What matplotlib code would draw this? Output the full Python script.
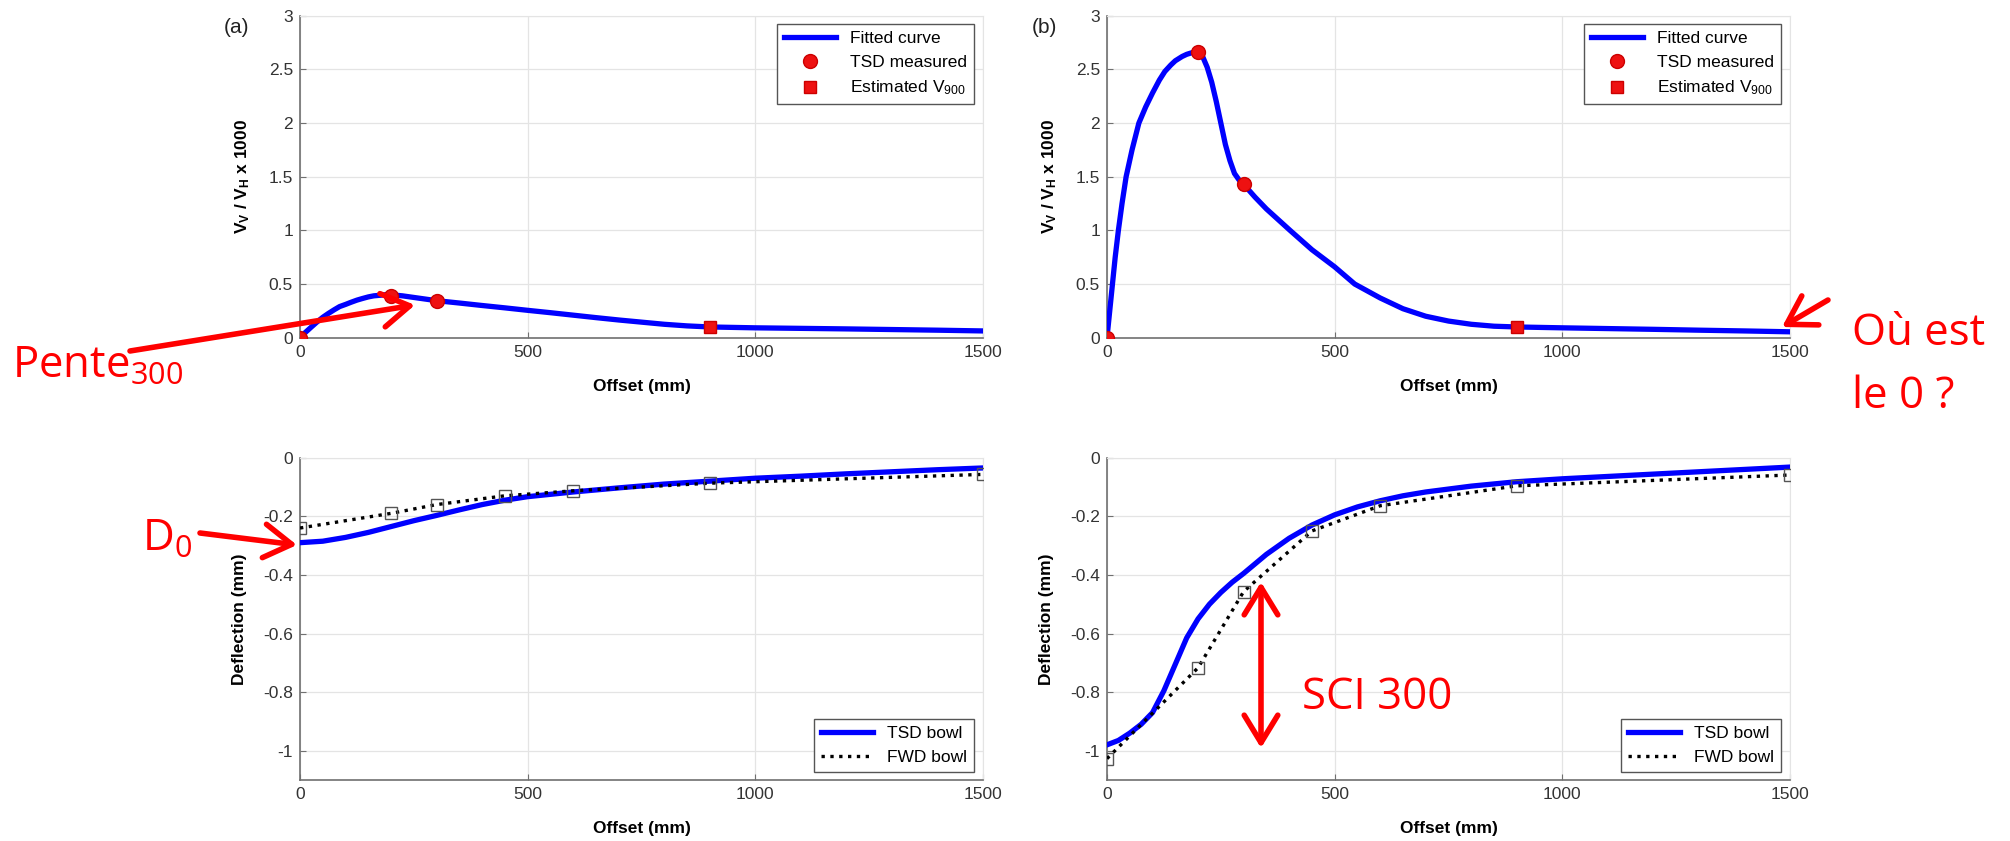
import numpy as np
import matplotlib
matplotlib.use('Agg')
import matplotlib.pyplot as plt
from matplotlib.patches import FancyArrowPatch
from matplotlib.transforms import IdentityTransform

plt.rcParams['font.family'] = ['Liberation Sans', 'DejaVu Sans']
plt.rcParams['mathtext.default'] = 'regular'
plt.rcParams['axes.unicode_minus'] = False

# ---- data ----
# (a) top: fitted Vv/Vh curve
fit_a_x = [0, 12, 25, 37, 50, 62, 75, 87, 100, 112, 125, 137, 150, 162, 175, 187, 200, 225, 250,
           275, 300, 350, 400, 450, 500, 550, 600, 650, 700, 750, 800, 850, 900, 1000, 1100, 1200,
           1300, 1400, 1500]
fit_a_y = [0, 0.05, 0.10, 0.145, 0.19, 0.225, 0.26, 0.29, 0.31, 0.33, 0.35, 0.365, 0.38, 0.39,
           0.395, 0.40, 0.40, 0.39, 0.375, 0.36, 0.345, 0.323, 0.30, 0.278, 0.255, 0.233, 0.21,
           0.187, 0.165, 0.145, 0.125, 0.11, 0.10, 0.092, 0.087, 0.082, 0.076, 0.07, 0.063]
tsd_a_x = [0, 200, 300]
tsd_a_y = [0, 0.39, 0.34]
v900_a = [0.10]

# (b) top
fit_b_x = [0, 6, 12, 18, 25, 33, 42, 55, 70, 85, 100, 115, 127, 140, 150, 165, 175, 190, 200,
           210, 220, 230, 240, 250, 260, 270, 280, 290, 300, 325, 350, 402, 450, 500, 544, 600,
           650, 700, 750, 800, 850, 900, 1000, 1100, 1200, 1300, 1400, 1500]
fit_b_y = [0, 0.25, 0.5, 0.75, 1.0, 1.25, 1.5, 1.75, 2.0, 2.15, 2.28, 2.4, 2.48, 2.54, 2.58, 2.62,
           2.64, 2.66, 2.66, 2.62, 2.52, 2.38, 2.2, 2.0, 1.8, 1.65, 1.53, 1.47, 1.43, 1.31, 1.2,
           1.0, 0.82, 0.66, 0.5, 0.37, 0.27, 0.2, 0.155, 0.125, 0.107, 0.10, 0.092, 0.085, 0.078,
           0.07, 0.063, 0.055]
tsd_b_x = [0, 200, 300]
tsd_b_y = [0, 2.66, 1.43]
v900_b = [0.10]
v900_x = [900]

# (a) bottom: deflection bowls
bowl_a_x = [0, 50, 100, 150, 200, 250, 300, 350, 400, 450, 500, 600, 700, 800, 900, 1000, 1100,
            1200, 1300, 1400, 1500]
bowl_a_y = [-0.29, -0.285, -0.272, -0.255, -0.235, -0.215, -0.197, -0.178, -0.16, -0.145, -0.133,
            -0.117, -0.103, -0.09, -0.08, -0.07, -0.063, -0.055, -0.048, -0.041, -0.035]
fwd_x = [0, 200, 300, 450, 600, 900, 1500]
fwd_a_y = [-0.24, -0.19, -0.16, -0.13, -0.113, -0.087, -0.057]

# (b) bottom
bowl_b_x = [0, 25, 50, 75, 100, 125, 150, 175, 200, 225, 250, 275, 300, 350, 400, 450, 500, 550,
            600, 650, 700, 800, 900, 1000, 1100, 1200, 1300, 1400, 1500]
bowl_b_y = [-0.98, -0.965, -0.94, -0.91, -0.87, -0.795, -0.705, -0.615, -0.55, -0.50, -0.46,
            -0.425, -0.395, -0.33, -0.275, -0.23, -0.195, -0.168, -0.147, -0.13, -0.117, -0.097,
            -0.082, -0.072, -0.064, -0.056, -0.048, -0.04, -0.032]
fwd_b_y = [-1.027, -0.717, -0.457, -0.25, -0.164, -0.096, -0.059]

x_ticks = [0, 500, 1000, 1500]
top_ticks = [0, 0.5, 1, 1.5, 2, 2.5, 3]
top_labels = ['0', '0.5', '1', '1.5', '2', '2.5', '3']
bot_ticks = [0, -0.2, -0.4, -0.6, -0.8, -1]
bot_labels = ['0', '-0.2', '-0.4', '-0.6', '-0.8', '-1']

W, H = 2010, 841
fig = plt.figure(figsize=(W / 100, H / 100), dpi=100)


def rect(left, top, right, bottom):
    return [left / W, 1 - bottom / H, (right - left) / W, (bottom - top) / H]


def style(ax):
    ax.grid(True, color='#e4e4e4', lw=0.9)
    ax.set_axisbelow(True)
    for s in ['top', 'right']:
        ax.spines[s].set_color('#e4e4e4')
    for s in ['left', 'bottom']:
        ax.spines[s].set_color('#707070')
        ax.spines[s].set_linewidth(1.2)
    ax.tick_params(direction='in', length=4, color='#707070', labelsize=12.5,
                   labelcolor='#333333', pad=5)
    ax.set_xlim(0, 1500)
    ax.set_xticks(x_ticks)
    ax.set_xlabel('Offset (mm)', fontsize=12.5, fontweight='bold', labelpad=14)


def top_panel(ax, fx, fy, tx, ty, v):
    ax.plot(fx, fy, color='#0000ff', lw=3.8, label='Fitted curve', zorder=3)
    ax.plot(tx, ty, 'o', color='#ee1111', mec='#cc0000', ms=10, label='TSD measured', zorder=4)
    ax.plot(v900_x, v, 's', color='#ee1111', mec='#cc0000', ms=8, label='Estimated V$_{900}$',
            zorder=4)
    style(ax)
    ax.set_ylim(0, 3)
    ax.set_yticks(top_ticks)
    ax.set_yticklabels(top_labels)
    ax.set_ylabel('V$_V$ / V$_H$ x 1000', fontsize=12.5, fontweight='bold', labelpad=12)
    ax.legend(loc='upper right', bbox_to_anchor=(0.987, 0.974), fontsize=12.5, fancybox=False,
              framealpha=1, edgecolor='#555555', handlelength=3.0, borderaxespad=0)


def bot_panel(ax, bx, by, fy):
    ax.plot(bx, by, color='#0000ff', lw=3.8, label='TSD bowl', zorder=3)
    ax.plot(fwd_x, fy, ':', color='black', lw=2.4, label='FWD bowl', zorder=4)
    ax.plot(fwd_x, fy, 's', mfc='none', mec='#555555', ms=8, mew=1, zorder=4)
    style(ax)
    ax.set_ylim(-1.1, 0)
    ax.set_yticks(bot_ticks)
    ax.set_yticklabels(bot_labels)
    ax.set_ylabel('Deflection (mm)', fontsize=12.5, fontweight='bold', labelpad=12)
    ax.legend(loc='lower right', bbox_to_anchor=(0.987, 0.024), fontsize=12.5, fancybox=False,
              framealpha=1, edgecolor='#555555', handlelength=3.0, borderaxespad=0)


ax1 = fig.add_axes(rect(300, 15.7, 983, 337.7))
ax2 = fig.add_axes(rect(1107, 15.7, 1790, 337.7))
ax3 = fig.add_axes(rect(300, 457.7, 983, 780))
ax4 = fig.add_axes(rect(1107, 457.7, 1790, 780))

top_panel(ax1, fit_a_x, fit_a_y, tsd_a_x, tsd_a_y, v900_a)
top_panel(ax2, fit_b_x, fit_b_y, tsd_b_x, tsd_b_y, v900_b)
bot_panel(ax3, bowl_a_x, bowl_a_y, fwd_a_y)
bot_panel(ax4, bowl_b_x, bowl_b_y, fwd_b_y)

fig.text(224 / W, 1 - 33 / H, '(a)', fontsize=15, color='#222222', va='baseline')
fig.text(1032 / W, 1 - 33 / H, '(b)', fontsize=15, color='#222222', va='baseline')

# ---- red annotations ----
red = '#ff0000'
afont = ['Open Sans', 'DejaVu Sans']


def label(x, y, s, size=31.5):
    fig.text(x / W, 1 - y / H, s, fontsize=size, color=red, family=afont, va='baseline',
             zorder=10)


def arrow(x0, y0, x1, y1, style='->'):
    fig.add_artist(FancyArrowPatch((x0, H - y0), (x1, H - y1), transform=IdentityTransform(),
                                   arrowstyle=style + ',head_length=0.9,head_width=0.55',
                                   color=red, lw=4, shrinkA=0, shrinkB=0, mutation_scale=22,
                                   zorder=10))


label(12, 378, 'Pente$_{300}$')
label(142, 551, 'D$_0$')
label(1852, 345, 'Où est')
label(1852, 408, 'le 0 ?')
label(1302, 709, 'SCI 300')

arrow(130, 351, 415, 305)
arrow(200, 533, 297, 545)
arrow(1828, 300, 1782, 327)
arrow(1261, 748, 1261, 582, style='<->')

fig.savefig('out.png', dpi=100, facecolor='white')
